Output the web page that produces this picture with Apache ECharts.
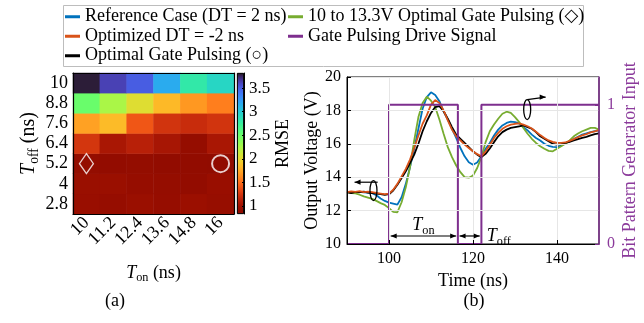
<!DOCTYPE html>
<html><head><meta charset="utf-8">
<script src="https://cdn.jsdelivr.net/npm/echarts@6/dist/echarts.min.js"></script>
<style>html,body{margin:0;padding:0;background:#fff}#c{width:644px;height:323px}</style>
</head><body><div id="c"></div>
<script>
// ---------- (a) heatmap data ----------
const tonLabels = ['10','11.2','12.4','13.6','14.8','16'];
const toffLabels = ['2.8','4','5.2','6.4','7.6','8.8','10']; // bottom -> top
const rmse2p8 = [0.96,0.94,0.97,0.94,0.98,0.95];
const rmse4   = [0.97,0.97,0.94,0.93,0.91,0.96];
const rmse5p2 = [0.92,0.91,0.92,0.90,0.90,0.88];
const rmse6p4 = [1.25,1.06,1.13,1.05,0.93,1.06];
const rmse7p6 = [1.72,1.84,1.40,1.24,1.20,1.24];
const rmse8p8 = [2.50,2.25,2.03,1.83,1.68,1.57];
const rmse10  = [3.79,3.62,3.50,3.16,2.80,2.93];
const rmseRows = [rmse2p8, rmse4, rmse5p2, rmse6p4, rmse7p6, rmse8p8, rmse10];
const diamondCell = ['10','5.2'];
const circleCell = ['16','5.2'];
const rmseMin = 0.83, rmseMax = 3.82;
const rmseTicks = [1,1.5,2,2.5,3,3.5];

// ---------- (b) waveform data ----------
const time = [90,91,92,93,94,95,96,97,98,99,100,101,102,103,104,105,106,107,108,109,110,111,112,113,114,115,116,117,118,119,120,121,122,123,124,125,126,127,128,129,130,131,132,133,134,135,136,137,138,139,140,141,142,143,144,145,146,147,148,149,150];
const vRef = [13.10,13.12,13.08,13.12,13.10,13.08,13.04,12.92,12.72,12.58,12.48,12.42,12.36,12.80,13.60,14.60,15.70,16.90,18.10,18.80,19.08,18.92,18.55,17.95,17.45,16.90,16.35,15.75,15.25,14.90,14.75,14.88,15.25,15.70,16.05,16.50,16.85,17.10,17.25,17.33,17.30,17.22,17.00,16.80,16.55,16.35,16.20,16.00,15.88,15.82,15.80,15.90,16.05,16.15,16.28,16.42,16.55,16.62,16.70,16.76,16.80];
const vOpt = [13.10,13.15,13.12,13.16,13.10,13.13,13.10,13.06,13.02,12.98,13.02,13.25,13.60,14.05,14.50,15.05,15.75,16.50,17.20,17.70,18.35,18.62,18.45,18.00,17.40,16.85,16.45,16.20,15.95,15.75,15.55,15.38,15.25,15.55,15.93,16.35,16.65,16.90,17.05,17.15,17.20,17.22,17.15,17.05,16.92,16.72,16.52,16.35,16.20,16.12,16.05,16.05,16.08,16.18,16.28,16.40,16.50,16.58,16.68,16.75,16.82];
const vGate = [13.10,13.05,13.12,13.10,13.14,13.08,13.05,13.02,12.98,12.94,12.98,13.20,13.55,13.95,14.35,14.85,15.35,16.00,16.75,17.35,17.85,18.20,18.25,17.95,17.50,17.00,16.55,16.30,16.05,15.80,15.55,15.35,15.20,15.40,15.72,16.10,16.45,16.70,16.85,16.95,17.00,17.05,17.10,17.00,16.90,16.70,16.45,16.30,16.15,16.00,15.95,15.98,16.05,16.12,16.20,16.28,16.35,16.42,16.50,16.58,16.62];
const v10to13 = [13.10,13.05,13.03,12.95,12.85,12.78,12.70,12.58,12.45,12.34,12.15,11.92,11.90,12.50,13.40,14.60,16.20,17.60,18.45,18.82,18.58,18.20,17.45,16.60,15.80,15.20,14.70,14.30,14.00,13.97,14.10,14.55,15.20,16.10,16.75,17.15,17.50,17.80,17.92,17.85,17.60,17.30,16.95,16.60,16.30,16.05,15.85,15.70,15.58,15.55,15.70,15.85,16.00,16.20,16.45,16.62,16.75,16.85,16.95,16.95,16.85];
const driveTime = [90,100,100,116.4,116.4,122,122,150];
const driveLevel = [0,0,1,1,0,0,1,1];
const timeTicks = [100,120,140];
const driveTicks = [0,1];
const tOn = [100.4, 116.0];
const tOff = [116.8, 121.6];

const names = ['Reference Case (DT = 2 ns)','Optimized DT = -2 ns','Optimal Gate Pulsing (\u25CB)','10 to 13.3V Optimal Gate Pulsing (\u25C7)','Gate Pulsing Drive Signal'];
const colors = ['#0072BD','#D95319','#000000','#77AC30','#7E2F8E'];

const FONT = '"Liberation Serif","DejaVu Serif",serif';

function turbo(t){
  t = Math.max(0, Math.min(1, t));
  const r = 0.13572138 + t*(4.61539260 + t*(-42.66032258 + t*(132.13108234 + t*(-152.94239396 + t*59.28637943))));
  const g = 0.09140261 + t*(2.19418839 + t*(4.84296658 + t*(-14.18503333 + t*(4.27729857 + t*2.82956604))));
  const b = 0.10667330 + t*(12.64194608 + t*(-60.58204836 + t*(110.36276771 + t*(-89.90310912 + t*27.34824973))));
  const c = x => Math.round(255*Math.max(0, Math.min(1, x)));
  return 'rgb(' + c(r) + ',' + c(g) + ',' + c(b) + ')';
}
const N = 40;
const vmColors = [], gradStops = [];
for (let i = 0; i <= N; i++) { vmColors.push(turbo(1 - i/N)); gradStops.push({offset: i/N, color: turbo(i/N)}); }

const heatData = [];
rmseRows.forEach((row, yi) => row.forEach((v, xi) => heatData.push([xi, yi, v])));

const zip = (xs, ys) => xs.map((x, i) => [x, ys[i]]);

const chart = echarts.init(document.getElementById('c'), null, {renderer: 'canvas'});
const black = '#000';
const purple = '#7E2F8E';
const richSub = (fs) => ({
  i: {fontStyle: 'italic', fontSize: fs, fontFamily: FONT, color: black},
  s: {fontSize: fs*0.68, fontFamily: FONT, color: black, padding: [fs*0.55, 0, 0, 0]},
  n: {fontSize: fs, fontFamily: FONT, color: black}
});
const legendText = {fontSize: 18, fontFamily: FONT, color: black, lineHeight: 19.5};

const option = {
  animation: false,
  textStyle: {fontFamily: FONT, color: black},
  grid: [
    {left: 73, top: 73, width: 161, height: 141},
    {left: 237, top: 73, width: 7, height: 141},
    {left: 347, top: 77, width: 252, height: 167, show: true, borderColor: black, borderWidth: 1, backgroundColor: 'transparent'}
  ],
  legend: [
    {orient: 'vertical', left: 65, top: 7, padding: 0, itemGap: 0, itemWidth: 15, itemHeight: 3, icon: 'rect',
     data: [names[0], names[1], names[2]], textStyle: legendText},
    {orient: 'vertical', left: 288, top: 7, padding: 0, itemGap: 0, itemWidth: 15, itemHeight: 3, icon: 'rect',
     data: [names[3], names[4]], textStyle: legendText}
  ],
  visualMap: {type: 'continuous', show: false, min: rmseMin, max: rmseMax, seriesIndex: 0, dimension: 2, inRange: {color: vmColors}},
  xAxis: [
    {type: 'category', gridIndex: 0, data: tonLabels, z: 10,
     axisLine: {lineStyle: {color: black, width: 1.2}},
     axisTick: {inside: true, alignWithLabel: true, length: 3, lineStyle: {color: black}},
     axisLabel: {interval: 0, rotate: 45, fontSize: 18, fontFamily: FONT, color: black, margin: 6},
     name: '{i|T}{s|on}{n| (ns)}', nameLocation: 'middle', nameGap: 48,
     nameTextStyle: {rich: richSub(18)}},
    {type: 'category', gridIndex: 0, position: 'top', data: tonLabels, z: 10,
     axisLine: {lineStyle: {color: black, width: 1.2}},
     axisTick: {inside: true, alignWithLabel: true, length: 3, interval: 0, lineStyle: {color: black}},
     axisLabel: {show: false}},
    {type: 'category', gridIndex: 1, data: ['cb'], show: false},
    {type: 'value', gridIndex: 2, min: 90, max: 150, z: 5,
     axisLine: {lineStyle: {color: black, width: 1}},
     axisTick: {inside: true, length: 4, customValues: timeTicks, lineStyle: {color: black}},
     axisLabel: {customValues: timeTicks, fontSize: 16, fontFamily: FONT, color: black, margin: 7},
     splitLine: {show: true, lineStyle: {color: '#e6e6e6', width: 1}},
     name: 'Time (ns)', nameLocation: 'middle', nameGap: 27,
     nameTextStyle: {fontSize: 18, fontFamily: FONT, color: black}}
  ],
  yAxis: [
    {type: 'category', gridIndex: 0, data: toffLabels, z: 10,
     axisLine: {lineStyle: {color: black, width: 1.2}},
     axisTick: {inside: true, alignWithLabel: true, length: 3, interval: 0, lineStyle: {color: black}},
     axisLabel: {interval: 0, fontSize: 18, fontFamily: FONT, color: black, margin: 5},
     name: '{i|T}{s|off}{n| (ns)}', nameLocation: 'middle', nameGap: 29, nameRotate: 90,
     nameTextStyle: {rich: richSub(20)}},
    {type: 'category', gridIndex: 0, position: 'right', data: toffLabels, z: 10,
     axisLine: {lineStyle: {color: black, width: 1.2}}, axisTick: {show: false}, axisLabel: {show: false}},
    {type: 'value', gridIndex: 1, min: rmseMin, max: rmseMax, position: 'right', z: 10,
     axisLine: {show: true, lineStyle: {color: black, width: 1}},
     axisTick: {show: true, inside: true, length: 2, customValues: rmseTicks, lineStyle: {color: black}},
     axisLabel: {customValues: rmseTicks, fontSize: 17, fontFamily: FONT, color: black, margin: 5},
     splitLine: {show: false},
     name: 'RMSE', nameLocation: 'middle', nameGap: 28, nameRotate: 90,
     nameTextStyle: {fontSize: 18, fontFamily: FONT, color: black}},
    {type: 'value', gridIndex: 2, min: 10, max: 20, interval: 2, z: 5,
     axisLine: {show: true, lineStyle: {color: black, width: 1}},
     axisTick: {show: true, inside: true, length: 4, lineStyle: {color: black}},
     axisLabel: {fontSize: 16, fontFamily: FONT, color: black, margin: 6},
     splitLine: {show: true, lineStyle: {color: '#e6e6e6', width: 1}},
     name: 'Output Voltage (V)', nameLocation: 'middle', nameGap: 25,
     nameTextStyle: {fontSize: 18, fontFamily: FONT, color: black}},
    {type: 'value', gridIndex: 2, min: 0, max: 1.2, position: 'right', z: 6,
     axisLine: {show: true, lineStyle: {color: purple, width: 1.5}},
     axisTick: {show: true, inside: true, length: 4, customValues: driveTicks, lineStyle: {color: purple}},
     axisLabel: {customValues: driveTicks, fontSize: 16, fontFamily: FONT, color: '#8B3A9B', margin: 8},
     splitLine: {show: false},
     name: 'Bit Pattern Generator Input', nameLocation: 'middle', nameGap: 22, nameRotate: 90,
     nameTextStyle: {fontSize: 18, fontFamily: FONT, color: '#8B3A9B'}}
  ],
  series: [
    {type: 'heatmap', xAxisIndex: 0, yAxisIndex: 0, data: heatData, itemStyle: {borderWidth: 0}},
    {type: 'scatter', xAxisIndex: 0, yAxisIndex: 0, data: [diamondCell], symbol: 'diamond', symbolSize: [14, 20],
     itemStyle: {color: 'rgba(0,0,0,0)', borderColor: '#fff', borderWidth: 1.3}, z: 5},
    {type: 'scatter', xAxisIndex: 0, yAxisIndex: 0, data: [circleCell], symbol: 'circle', symbolSize: 17,
     itemStyle: {color: 'rgba(0,0,0,0)', borderColor: '#fff', borderWidth: 2}, z: 5},
    {type: 'bar', xAxisIndex: 2, yAxisIndex: 2, stack: 'cb', data: [rmseMin], barWidth: '100%', silent: true,
     itemStyle: {color: 'rgba(0,0,0,0)'}},
    {type: 'bar', xAxisIndex: 2, yAxisIndex: 2, stack: 'cb', data: [rmseMax - rmseMin], barWidth: '100%', silent: true,
     itemStyle: {color: new echarts.graphic.LinearGradient(0, 0, 0, 1, gradStops), borderColor: black, borderWidth: 0.8}},
    {name: names[0], type: 'line', xAxisIndex: 3, yAxisIndex: 3, data: zip(time, vRef), showSymbol: false, color: colors[0], lineStyle: {width: 1.8}},
    {name: names[3], type: 'line', xAxisIndex: 3, yAxisIndex: 3, data: zip(time, v10to13), showSymbol: false, color: colors[3], lineStyle: {width: 1.8}},
    {name: names[2], type: 'line', xAxisIndex: 3, yAxisIndex: 3, data: zip(time, vGate), showSymbol: false, color: colors[2], lineStyle: {width: 1.8}},
    {name: names[1], type: 'line', xAxisIndex: 3, yAxisIndex: 3, data: zip(time, vOpt), showSymbol: false, color: colors[1], lineStyle: {width: 1.8}},
    {name: names[4], type: 'line', xAxisIndex: 3, yAxisIndex: 4, data: zip(driveTime, driveLevel), showSymbol: false, color: colors[4], lineStyle: {width: 2}}
  ]
};
chart.setOption(option);

// ---------- annotations ----------
const P = (t, v) => chart.convertToPixel({xAxisIndex: 3, yAxisIndex: 3}, [t, v]);
function head(tip, dir, col) { // dir: +1 pointing right, -1 pointing left
  const L = 6, W = 2.6;
  return {type: 'polygon', shape: {points: [[tip[0], tip[1]], [tip[0] - dir*L, tip[1] - W], [tip[0] - dir*L, tip[1] + W]]},
          style: {fill: col}, z: 20};
}
function seg(a, b, col) {
  return {type: 'line', shape: {x1: a[0], y1: a[1], x2: b[0], y2: b[1]}, style: {stroke: col, lineWidth: 1.2}, z: 20};
}
const g = [];
g.push({type: 'rect', shape: {x: 63.5, y: 5.5, width: 520, height: 61}, style: {fill: '#fff', stroke: '#bdbdbd', lineWidth: 1}, z: -1});
const yArr = 10.48;
[tOn, tOff].forEach(r => {
  const a = P(r[0], yArr), b = P(r[1], yArr);
  g.push(seg(a, b, black), head(a, -1, black), head(b, 1, black));
});
const pOn = P((tOn[0] + tOn[1]) / 2, 11.1);
g.push({type: 'text', x: pOn[0], y: pOn[1], z: 20, style: {text: '{i|T}{s|on}', rich: richSub(18), align: 'center', verticalAlign: 'middle'}});
const pOff = P(123.3, 10.45);
g.push({type: 'text', x: pOff[0], y: pOff[1], z: 20, style: {text: '{i|T}{s|off}', rich: richSub(18), align: 'left', verticalAlign: 'middle'}});
const e1 = P(96.3, 13.2);
g.push({type: 'ellipse', shape: {cx: e1[0], cy: e1[1], rx: 3.5, ry: 10}, style: {fill: 'none', stroke: black, lineWidth: 1.3}, z: 20});
const a1s = P(97.3, 13.7), a1e = P(91.8, 13.7);
g.push(seg(a1s, a1e, black), head(a1e, -1, black));
const e2 = P(132.9, 18.05);
g.push({type: 'ellipse', shape: {cx: e2[0], cy: e2[1], rx: 3.5, ry: 10}, style: {fill: 'none', stroke: black, lineWidth: 1.3}, z: 20});
const a2s = P(132.9, 18.65), a2e = P(137.3, 18.8);
g.push(seg(a2s, a2e, black), head(a2e, 1, black));
g.push({type: 'text', x: 115, y: 301, style: {text: '(a)', font: '18px ' + FONT, fill: black, align: 'center', verticalAlign: 'middle'}});
g.push({type: 'text', x: 474, y: 301, style: {text: '(b)', font: '18px ' + FONT, fill: black, align: 'center', verticalAlign: 'middle'}});
chart.setOption({graphic: g});
</script></body></html>
